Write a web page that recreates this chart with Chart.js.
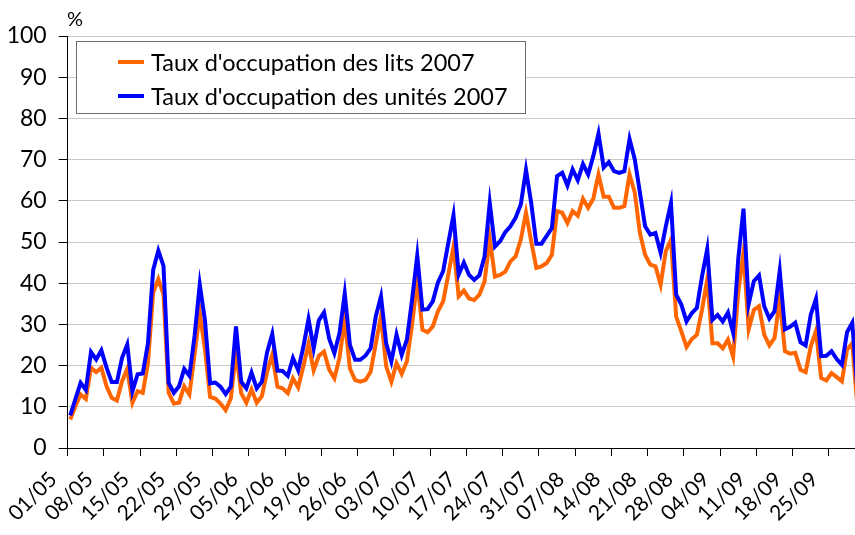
<!DOCTYPE html>
<html>
<head>
<meta charset="utf-8">
<script src="https://cdn.jsdelivr.net/npm/chart.js@4/dist/chart.umd.min.js"></script>
<style>
  html, body { margin: 0; padding: 0; overflow: hidden; background: #fff; }
  #wrap { width: 860px; height: 535px; position: relative; }
</style>
</head>
<body>
<div id="wrap"><canvas id="lineChart"></canvas></div>
<script>
// Taux d'occupation 2007, du 01/05 au 30/09 (une valeur par jour)
const tickLabels = ['01/05', '08/05', '15/05', '22/05', '29/05', '05/06', '12/06', '19/06', '26/06', '03/07', '10/07',
  '17/07', '24/07', '31/07', '07/08', '14/08', '21/08', '28/08', '04/09', '11/09', '18/09', '25/09'];

const seriesNames = ["Taux d'occupation des lits 2007", "Taux d'occupation des unités 2007"];
const seriesColors = ['#FF6600', '#0000FF'];

const lits = [
  6.9, 10.2, 13.0, 11.9, 19.5, 18.4, 19.5, 15.0, 12.2, 11.5,
  16.2, 19.2, 11.0, 13.8, 13.4, 20.7, 37.7, 41.0, 37.3, 13.4,
  10.8, 11.0, 15.0, 13.0, 22.7, 32.9, 24.0, 12.4, 12.0, 10.8,
  9.2, 12.0, 23.4, 13.3, 11.0, 14.2, 11.0, 12.6, 18.5, 22.6,
  14.9, 14.5, 13.3, 16.9, 14.7, 19.8, 25.3, 18.9, 22.4, 23.4,
  19.0, 16.9, 22.0, 31.1, 19.3, 16.5, 16.1, 16.5, 18.5, 25.4,
  32.0, 19.8, 16.1, 20.6, 18.0, 21.0, 29.9, 40.7, 28.7, 28.1,
  29.5, 33.2, 35.6, 42.1, 48.9, 36.8, 38.2, 36.3, 35.9, 37.2,
  40.4, 50.7, 41.6, 42.0, 42.8, 45.3, 46.5, 50.6, 57.1, 50.2,
  43.7, 44.1, 44.9, 46.9, 57.5, 57.1, 54.6, 57.5, 56.4, 60.5,
  58.3, 60.5, 66.4, 61.0, 61.0, 58.3, 58.3, 58.7, 66.4, 62.0,
  52.2, 46.9, 44.5, 44.1, 39.6, 47.8, 50.6, 31.9, 28.3, 24.5,
  26.4, 27.5, 33.6, 40.9, 25.4, 25.4, 24.2, 26.3, 22.2, 38.0,
  47.4, 28.8, 33.5, 34.4, 27.5, 24.9, 26.7, 36.1, 23.5, 22.9,
  23.1, 19.0, 18.4, 24.7, 28.4, 17.0, 16.4, 18.2, 17.2, 16.2,
  23.9, 25.4, 10.0
];

const unites = [
  7.9, 11.9, 15.8, 14.1, 23.3, 21.5, 23.7, 19.5, 16.0, 16.0,
  21.9, 25.1, 13.8, 17.9, 18.1, 25.4, 43.2, 47.9, 44.2, 15.8,
  13.4, 15.0, 19.2, 17.5, 27.2, 39.7, 31.0, 15.7, 15.9, 14.9,
  13.1, 14.9, 29.5, 16.1, 14.5, 18.3, 14.5, 16.1, 23.2, 27.7,
  18.8, 18.7, 17.5, 21.8, 18.9, 24.5, 31.3, 24.2, 31.0, 32.9,
  26.5, 23.0, 28.0, 37.5, 25.0, 21.4, 21.4, 22.4, 24.2, 32.0,
  36.8, 25.4, 21.0, 27.5, 22.6, 26.3, 36.0, 46.7, 33.6, 33.7,
  35.6, 40.2, 42.9, 49.8, 56.5, 42.1, 45.0, 42.0, 40.8, 41.9,
  46.5, 59.5, 48.9, 50.2, 52.4, 53.8, 55.9, 59.1, 67.5, 59.5,
  49.6, 49.6, 51.5, 53.4, 66.0, 66.8, 63.7, 67.6, 65.0, 68.9,
  66.4, 70.9, 76.3, 68.1, 69.4, 67.2, 66.8, 67.2, 75.0, 70.1,
  62.0, 53.8, 51.8, 52.2, 47.4, 53.8, 59.5, 37.2, 34.8, 30.7,
  32.7, 34.0, 41.7, 48.3, 31.1, 32.3, 30.7, 32.9, 28.0, 46.0,
  58.1, 34.9, 40.5, 41.9, 34.4, 31.4, 33.2, 43.0, 28.8, 29.4,
  30.4, 25.7, 24.9, 32.4, 36.2, 22.3, 22.4, 23.5, 21.6, 20.2,
  28.1, 30.4, 14.0
];

// une catégorie par jour
function pad(n) { return n < 10 ? '0' + n : '' + n; }
let days = [];
let d = new Date(2007, 4, 1);
while (d.getMonth() < 9) {
  days.push(pad(d.getDate()) + '/' + pad(d.getMonth() + 1));
  d.setDate(d.getDate() + 1);
}

Chart.defaults.font.family = 'Lato, "DejaVu Sans", sans-serif';
Chart.defaults.color = '#000';

// légende encadrée dans la zone du graphique + le "%" de l'axe
const boxLegend = {
  id: 'boxLegend',
  afterDraw(chart) {
    const ctx = chart.ctx;
    ctx.save();
    ctx.fillStyle = '#fff';
    ctx.fillRect(76, 41, 449, 72);
    ctx.strokeStyle = '#6e6e6e';
    ctx.lineWidth = 1;
    ctx.strokeRect(76.5, 41.5, 449, 72);
    ctx.font = '23.5px Lato, "DejaVu Sans", sans-serif';
    ctx.textBaseline = 'middle';
    chart.data.datasets.forEach(function (ds, k) {
      let y = 62 + k * 34;
      ctx.strokeStyle = ds.borderColor;
      ctx.lineWidth = 4;
      ctx.beginPath();
      ctx.moveTo(118, y);
      ctx.lineTo(144, y);
      ctx.stroke();
      ctx.fillStyle = '#000';
      ctx.fillText(ds.label, 151, y + 1);
    });
    ctx.font = '20px Lato, "DejaVu Sans", sans-serif';
    ctx.fillText('%', 67, 20);
    ctx.restore();
  }
};

let lineChart = document.getElementById('lineChart');
new Chart(lineChart, {
  type: 'line',
  data: {
    labels: days,
    datasets: [
      {
        label: seriesNames[0],
        data: lits,
        borderColor: seriesColors[0],
        borderWidth: 4,
        pointRadius: 0,
        tension: 0,
        order: 2,
      },
      {
        label: seriesNames[1],
        data: unites,
        borderColor: seriesColors[1],
        borderWidth: 4,
        pointRadius: 0,
        tension: 0,
        order: 1,
      },
    ],
  },
  options: {
    responsive: true,
    maintainAspectRatio: false,
    animation: false,
    layout: { padding: { top: 36, right: 0, bottom: 0, left: 0 } },
    plugins: {
      legend: { display: false },
      tooltip: { enabled: false },
    },
    scales: {
      x: {
        offset: true,
        grid: {
          offset: true,
          drawOnChartArea: false,
          tickLength: 8,
          color: function (c) { return c.index % 7 === 0 ? '#000' : 'rgba(0,0,0,0)'; },
        },
        border: { color: '#000', width: 1 },
        ticks: {
          autoSkip: false,
          minRotation: 45,
          maxRotation: 45,
          labelOffset: -17,
          padding: 11,
          font: { size: 21 },
          callback: function (v, i) { return i % 7 === 0 ? tickLabels[i / 7] : ''; },
        },
        afterFit: function (s) {
          s.height = 87;
          s.paddingRight = 0;
          s.paddingLeft = 0;
        },
      },
      y: {
        min: 0,
        max: 100,
        ticks: { stepSize: 10, padding: 12, font: { size: 23 } },
        grid: {
          color: function (c) { return c.tick.value === 0 ? 'rgba(0,0,0,0)' : '#c8c8c8'; },
          tickColor: '#000',
          tickLength: 9,
        },
        border: { color: '#000', width: 1 },
        afterFit: function (s) { s.width = 67.7; },
      },
    },
  },
  plugins: [boxLegend],
});
</script>
</body>
</html>
